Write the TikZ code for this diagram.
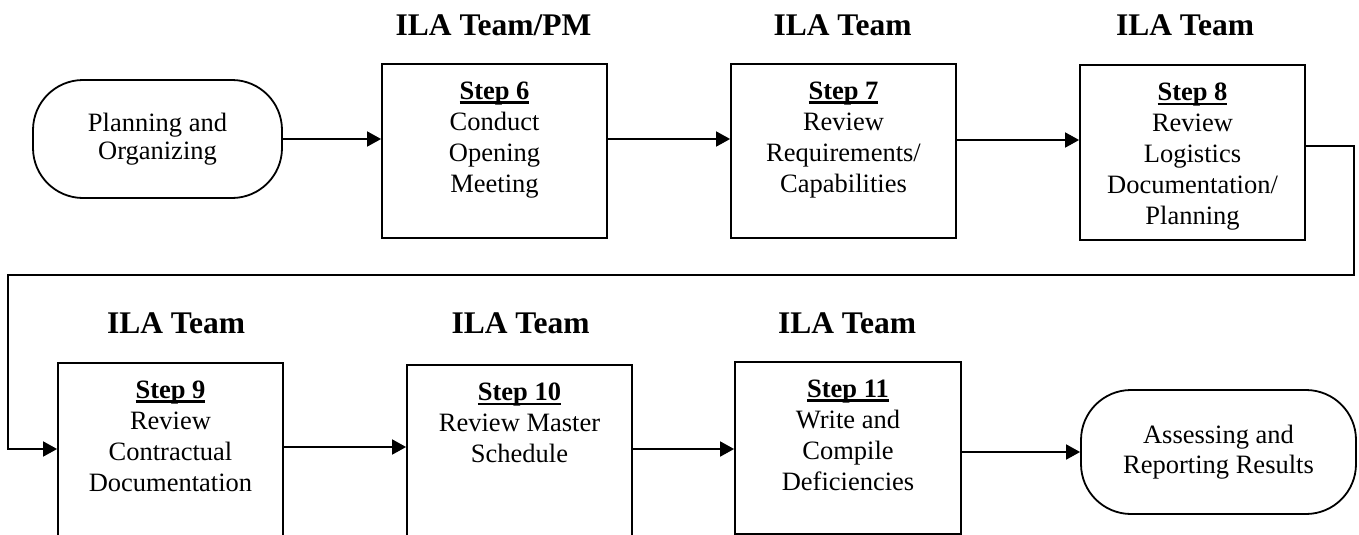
\documentclass[tikz,border=0pt]{standalone}
\usepackage{fontspec}
\setmainfont{Liberation Serif}
\usetikzlibrary{arrows.meta}
\newsavebox{\steplabelbox}
\newcommand{\steplabel}[1]{\sbox{\steplabelbox}{\textbf{#1}}\rlap{\rule[-4pt]{\wd\steplabelbox}{2.3pt}}\usebox{\steplabelbox}}
\begin{document}
\begin{tikzpicture}[x=1pt,y=-1pt,
  box/.style={draw, line width=1.8pt, minimum width=225pt, inner sep=0pt},
  txt/.style={anchor=north, inner sep=0pt, align=center, font=\fontsize{26.5}{31}\selectfont},
  hdr/.style={anchor=base, inner sep=0pt, font=\fontsize{31.5}{36}\selectfont\bfseries},
  term/.style={draw, line width=1.8pt, rounded corners=50pt, inner sep=0pt, align=center},
  arr/.style={line width=1.8pt, -{Triangle[length=14pt,width=15pt]}},
  conn/.style={line width=1.8pt}]
\useasboundingbox (0,0) rectangle (1359,535);
\clip (0,0) rectangle (1359,535);

% top row
\node[term, minimum width=249pt, minimum height=118pt, font=\fontsize{26.5}{28}\selectfont] (start) at (157.5,139) {Planning and\\Organizing};

\node[box, minimum height=174pt] (s6) at (494.5,151) {};
\node[box, minimum height=174pt] (s7) at (843.5,151) {};
\node[box, minimum height=175pt] (s8) at (1192.5,152.5) {};

\node[txt] (t6) at (494.5,82) {\steplabel{Step 6}\\Conduct\\Opening\\Meeting};
\node[txt] (t7) at (843.5,82) {\steplabel{Step 7}\\Review\\Requirements/\\Capabilities};
\node[txt] (t8) at (1192.5,83) {\steplabel{Step 8}\\Review\\Logistics\\Documentation/\\Planning};

\node[hdr] (h6) at (493.5,36) {ILA Team/PM};
\node[hdr] (h7) at (842.5,36) {ILA Team};
\node[hdr] (h8) at (1185,36) {ILA Team};

% bottom row
\node[box, minimum height=197pt] (s9) at (170.5,461.5) {};
\node[box, minimum height=195pt] (s10) at (519.5,462.5) {};
\node[box, minimum height=172pt, minimum width=226pt] (s11) at (848,448) {};
\node[term, minimum width=275pt, minimum height=124pt, font=\fontsize{26.5}{30}\selectfont] (end) at (1218.5,452) {Assessing and\\Reporting Results};

\node[txt] (t9) at (170.5,381) {\steplabel{Step 9}\\Review\\Contractual\\Documentation};
\node[txt] (t10) at (519.5,383) {\steplabel{Step 10}\\Review Master\\Schedule};
\node[txt] (t11) at (848,380) {\steplabel{Step 11}\\Write and\\Compile\\Deficiencies};

\node[hdr] (h9) at (176,333) {ILA Team};
\node[hdr] (h10) at (520.5,333) {ILA Team};
\node[hdr] (h11) at (847,333) {ILA Team};

% connectors
\draw[arr] (start.east) -- (s6.west |- start.east);
\draw[arr] (s6.east |- start.east) -- (s7.west |- start.east);
\draw[arr] (s7.east |- 0,140) -- (s8.west |- 0,140);

\coordinate (c1) at (1354,146);
\coordinate (c2) at (1354,275);
\coordinate (c3) at (8,275);
\coordinate (c4) at (8,449);
\draw[arr] (s8.east |- c1) -- (c1) -- (c2) -- (c3) -- (c4) -- (s9.west |- c4);

\draw[arr] (s9.east |- 0,447) -- (s10.west |- 0,447);
\draw[arr] (s10.east |- 0,449) -- (s11.west |- 0,449);
\draw[arr] (s11.east |- end.west) -- (end.west);
\end{tikzpicture}
\end{document}
